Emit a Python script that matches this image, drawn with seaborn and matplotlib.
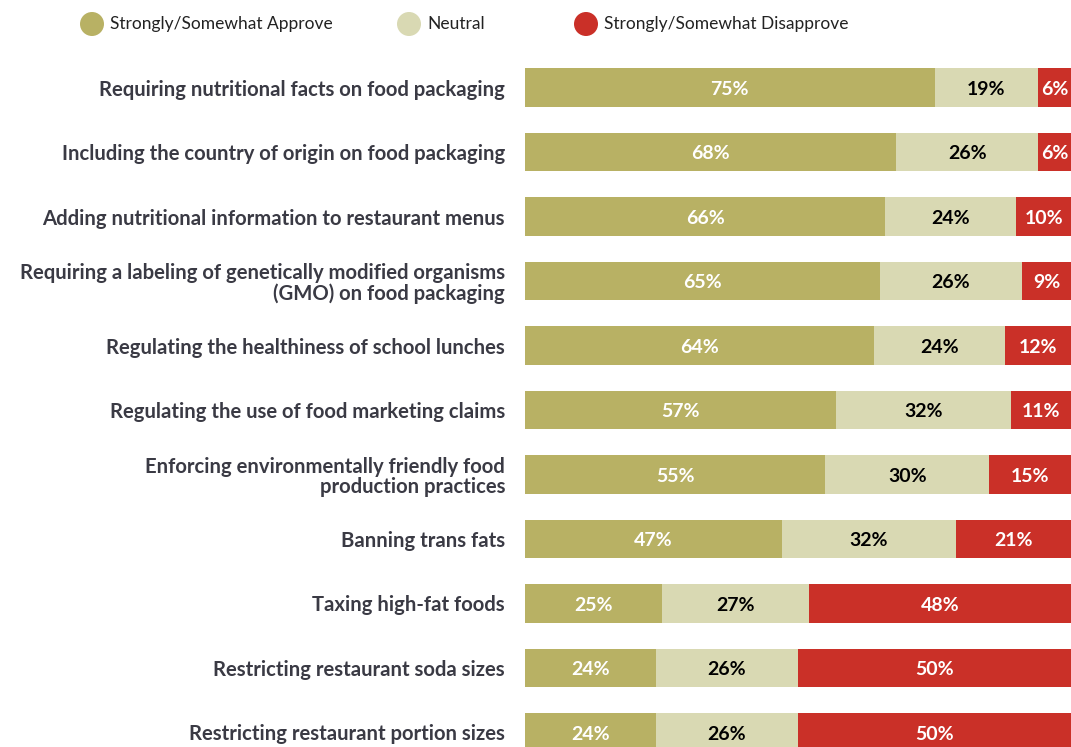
import numpy as np
import pandas as pd
import seaborn as sns
import matplotlib.pyplot as plt
from matplotlib.patches import Circle

# Survey items (top to bottom)
policies = [
    "Requiring nutritional facts on food packaging",
    "Including the country of origin on food packaging",
    "Adding nutritional information to restaurant menus",
    "Requiring a labeling of genetically modified organisms\n(GMO) on food packaging",
    "Regulating the healthiness of school lunches",
    "Regulating the use of food marketing claims",
    "Enforcing environmentally friendly food\nproduction practices",
    "Banning trans fats",
    "Taxing high-fat foods",
    "Restricting restaurant soda sizes",
    "Restricting restaurant portion sizes",
]
approve = [75, 68, 66, 65, 64, 57, 55, 47, 25, 24, 24]
neutral = [19, 26, 24, 26, 24, 32, 30, 32, 27, 26, 26]
disapprove = [6, 6, 10, 9, 12, 11, 15, 21, 48, 50, 50]

series = ["Strongly/Somewhat Approve", "Neutral", "Strongly/Somewhat Disapprove"]
colors = ["#B8B164", "#D9D9B3", "#CA3028"]
label_colors = ["white", "black", "white"]

sns.set_theme(style="white")
plt.rcParams["font.family"] = ["Lato", "DejaVu Sans"]

df = pd.DataFrame({
    "policy": policies,
    "approve": approve,
    "neutral": neutral,
    "disapprove": disapprove,
})
df["upto_neutral"] = df["approve"] + df["neutral"]
df["total"] = df["upto_neutral"] + df["disapprove"]

W, H = 1071, 747
fig = plt.figure(figsize=(W / 100, H / 100), dpi=100)
ax = fig.add_axes([525 / W, 0, 546 / W, 1])

# Stacked bars: draw cumulative totals back to front
for col, color in zip(["total", "upto_neutral", "approve"], colors[::-1]):
    sns.barplot(data=df, x=col, y="policy", orient="h", color=color,
                saturation=1, width=0.6, linewidth=0, errorbar=None, ax=ax)

# Segment value labels
for i, row in df.iterrows():
    starts = [0, row["approve"], row["upto_neutral"]]
    vals = [row["approve"], row["neutral"], row["disapprove"]]
    for s, v, c in zip(starts, vals, label_colors):
        ax.text(s + v / 2, i + 0.03, f"{v}%", ha="center", va="center",
                color=c, fontsize=14, fontweight="bold")

ax.set_xlim(0, 100)
ax.set_ylim(10.225, -1.357)
ax.set_xlabel("")
ax.set_ylabel("")
ax.set_xticks([])
ax.set_yticks(range(len(policies)))
ax.set_yticklabels(policies, fontsize=14.6, fontweight="bold", color="#3A3A44",
                   linespacing=1.05)
ax.tick_params(axis="y", length=0, pad=14.4)
sns.despine(ax=ax, left=True, bottom=True)

# Legend row across the top
lax = fig.add_axes([0, 0, 1, 1], zorder=5)
lax.set_xlim(0, W)
lax.set_ylim(H, 0)
lax.axis("off")
legend_x = [92, 409, 586]
for x, name, color in zip(legend_x, series, colors):
    lax.add_patch(Circle((x, 24), 12, color=color, lw=0))
    lax.text(x + 18, 24, name, ha="left", va="center", fontsize=12.5,
             color="#222222")

fig.savefig("out.png", dpi=100)
